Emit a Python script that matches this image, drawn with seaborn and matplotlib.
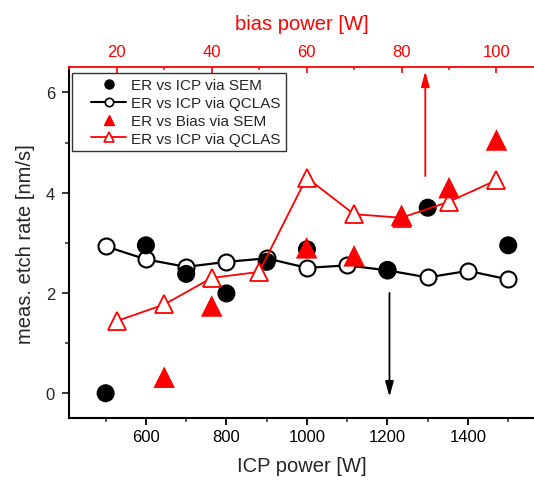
import matplotlib
matplotlib.use('Agg')
import matplotlib.pyplot as plt
import seaborn as sns
from matplotlib.lines import Line2D
from matplotlib.legend_handler import HandlerLine2D
from matplotlib.ticker import MultipleLocator

# ---- data ----
icp_sem_x = [500, 600, 700, 800, 900, 1000, 1200, 1300, 1500]
icp_sem_y = [0.0, 2.95, 2.38, 1.99, 2.62, 2.87, 2.46, 3.70, 2.95]
icp_qclas_x = [500, 600, 700, 800, 900, 1000, 1100, 1200, 1300, 1400, 1500]
icp_qclas_y = [2.93, 2.67, 2.52, 2.62, 2.69, 2.50, 2.55, 2.45, 2.31, 2.44, 2.27]
bias_sem_x = [30, 40, 60, 70, 80, 90, 100]
bias_sem_y = [0.32, 1.74, 2.90, 2.74, 3.55, 4.10, 5.05]
bias_qclas_x = [20, 30, 40, 50, 60, 70, 80, 90, 100]
bias_qclas_y = [1.44, 1.77, 2.30, 2.42, 4.30, 3.57, 3.50, 3.82, 4.25]
legend_labels = ["ER vs ICP via SEM", "ER vs ICP via QCLAS",
                 "ER vs Bias via SEM", "ER vs ICP via QCLAS"]

sns.set_style('ticks')
plt.rcParams['font.family'] = ['Liberation Sans', 'DejaVu Sans']

RED = '#ff0000'
W, H = 534, 481
fig = plt.figure(figsize=(W / 100, H / 100), dpi=100)
left, right, top, bottom = 69, 534, 68.3, 419.3
ax = fig.add_axes([left / W, (H - bottom) / H, (right - left) / W, (bottom - top) / H])
ax.set_facecolor('white')

# black ICP QCLAS (open circles with line)
sns.lineplot(x=icp_qclas_x, y=icp_qclas_y, ax=ax, color='black', lw=1.6,
             marker='o', markersize=11.5, markerfacecolor='white',
             markeredgecolor='black', markeredgewidth=1.5, sort=False, zorder=3)
# black ICP SEM (filled circles)
sns.scatterplot(x=icp_sem_x, y=icp_sem_y, ax=ax, color='black', marker='o',
                s=13 ** 2, edgecolor='none', zorder=4, legend=False)

ax.set_xlim(409, 1564)
ax.set_ylim(-0.5, 6.5)
ax.xaxis.set_major_locator(MultipleLocator(200))
ax.xaxis.set_minor_locator(MultipleLocator(100))
ax.yaxis.set_major_locator(MultipleLocator(2))
ax.yaxis.set_minor_locator(MultipleLocator(1))
ax.tick_params(axis='x', which='major', direction='out', length=5, width=1.3,
               labelsize=12, pad=3, colors='black', top=False)
ax.tick_params(axis='x', which='minor', direction='out', length=3, width=1.1, top=False)
ax.tick_params(axis='y', which='major', direction='out', length=5, width=1.3,
               labelsize=12, pad=5, right=False)
ax.tick_params(axis='y', which='minor', direction='out', length=3, width=1.1, right=False)
ax.set_xlabel('ICP power [W]', fontsize=14.5, labelpad=8)
ax.set_ylabel('meas. etch rate [nm/s]', fontsize=14.5, labelpad=8)
for s in ['left', 'bottom']:
    ax.spines[s].set_linewidth(1.5)
    ax.spines[s].set_color('black')
ax.spines['top'].set_visible(False)
ax.spines['right'].set_visible(False)

ax.annotate('', xy=(1205, -0.07), xytext=(1205, 2.0),
            arrowprops=dict(arrowstyle='-|>,head_length=0.9,head_width=0.25',
                            color='black', lw=1.3, mutation_scale=10,
                            shrinkA=0, shrinkB=0), zorder=2)

# top axis (bias)
ax2 = ax.twiny()
sns.lineplot(x=bias_qclas_x, y=bias_qclas_y, ax=ax2, color=RED, lw=1.3,
             marker='^', markersize=13.5, markerfacecolor='white',
             markeredgecolor=RED, markeredgewidth=1.3, sort=False, zorder=3)
sns.scatterplot(x=bias_sem_x, y=bias_sem_y, ax=ax2, color=RED, marker='^',
                s=15.5 ** 2, edgecolor='none', zorder=4, legend=False)
ax2.set_xlim(9.94, 107.9)
ax2.set_ylim(-0.5, 6.5)
ax2.xaxis.set_major_locator(MultipleLocator(20))
ax2.xaxis.set_minor_locator(MultipleLocator(10))
ax2.tick_params(axis='x', which='major', direction='in', length=4.5, width=1.2,
                labelsize=12, pad=6, colors=RED)
ax2.tick_params(axis='x', which='minor', direction='in', length=2.5, width=1.1, colors=RED)
ax2.set_xlabel('bias power [W]', fontsize=14.5, color=RED, labelpad=11)
ax2.set_ylabel('')
ax2.spines['top'].set_color(RED)
ax2.spines['top'].set_linewidth(1.3)
for s in ['left', 'bottom', 'right']:
    ax2.spines[s].set_visible(False)
ax2.tick_params(axis='y', left=False, right=False, labelleft=False, labelright=False)

ax2.annotate('', xy=(85, 6.42), xytext=(85, 4.33),
             arrowprops=dict(arrowstyle='-|>,head_length=0.9,head_width=0.25',
                             color=RED, lw=1.3, mutation_scale=10,
                             shrinkA=0, shrinkB=0))

handles = [
    Line2D([], [], color='black', marker='o', linestyle='none', markersize=6.5),
    Line2D([], [], color='black', marker='o', lw=1.5, markersize=6,
           markerfacecolor='white', markeredgewidth=1.2),
    Line2D([], [], color=RED, marker='^', linestyle='none', markersize=7.5),
    Line2D([], [], color=RED, marker='^', lw=1.3, markersize=7,
           markerfacecolor='white', markeredgewidth=1.2),
]
leg = ax2.legend(handles, legend_labels, loc='upper left',
                 bbox_to_anchor=(71.7 / W, (H - 74) / H), bbox_transform=fig.transFigure,
                 borderaxespad=0, fontsize=11, frameon=True, fancybox=False,
                 handlelength=3.23, handletextpad=0.33, labelspacing=0.25,
                 borderpad=0.35, framealpha=1,
                 handler_map={Line2D: HandlerLine2D(xpad=0.9)})
leg.get_frame().set_edgecolor('#333333')
leg.get_frame().set_linewidth(1.0)

fig.savefig('out.png', dpi=100)
